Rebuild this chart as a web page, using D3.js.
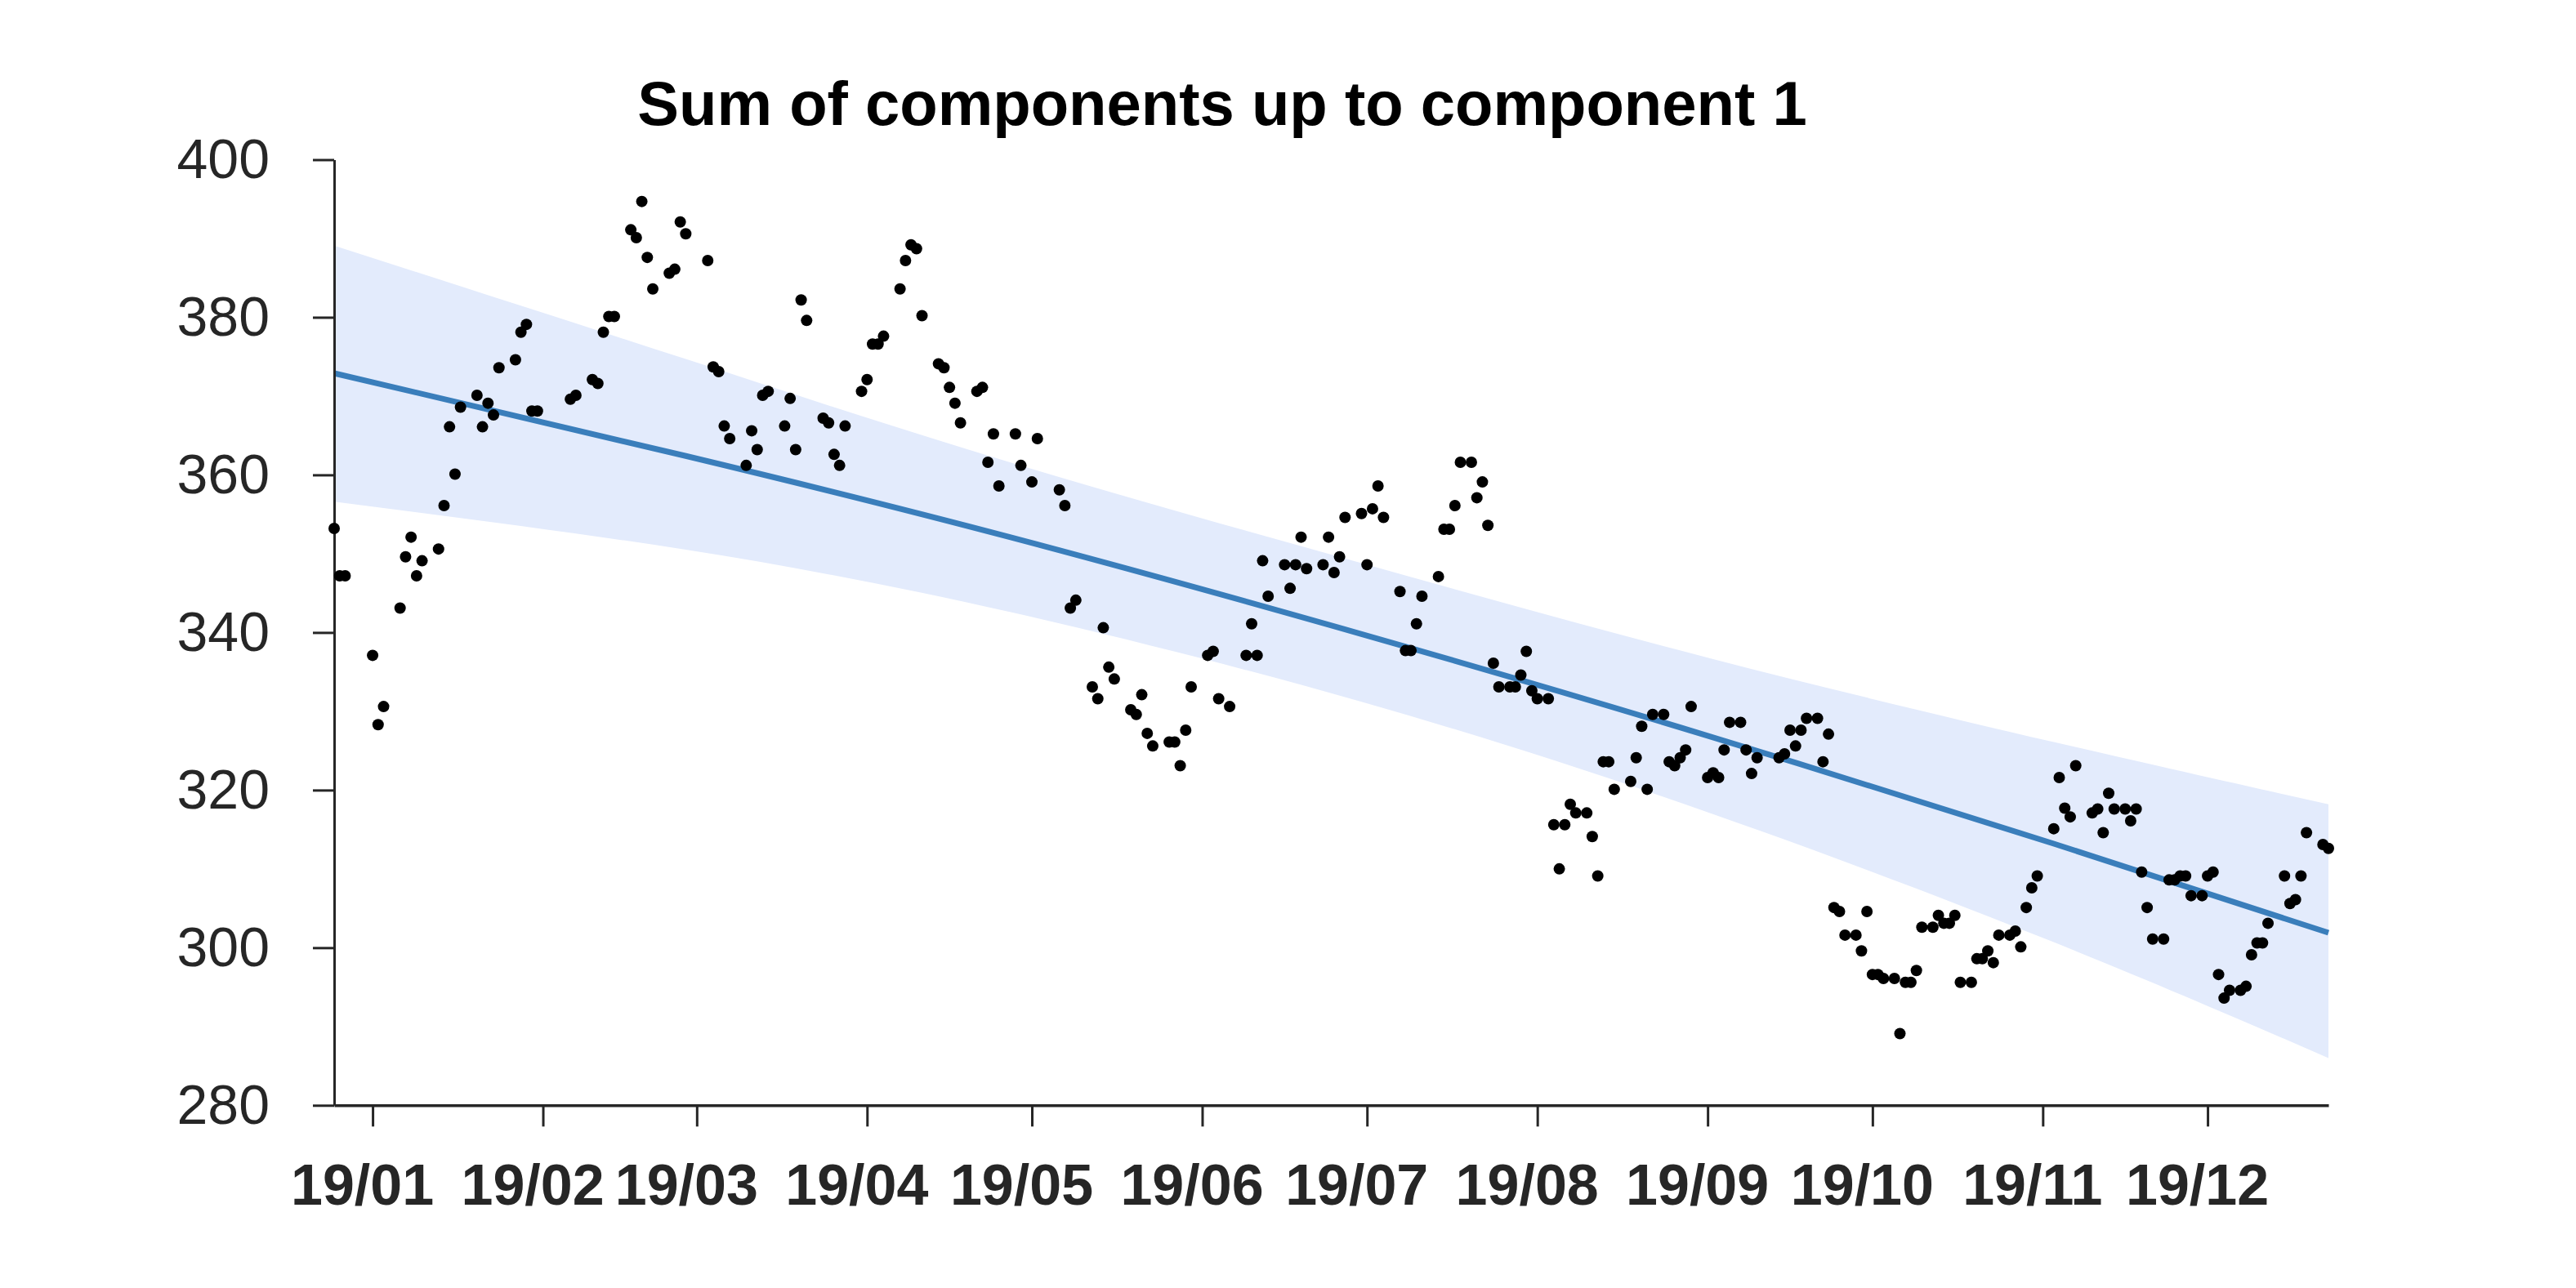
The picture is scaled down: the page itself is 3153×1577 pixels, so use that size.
<!DOCTYPE html>
<html>
<head>
<meta charset="utf-8">
<script src="https://cdn.jsdelivr.net/npm/d3@7"></script>
<style>
  html, body { margin: 0; padding: 0; background: #fff; }
  svg { display: block; }
</style>
</head>
<body>
<svg id="chart" width="3153" height="1577"></svg>
<script>
// ---- DATA (days counted from 2019-01-01) ----
const titleText = "Sum of components up to component 1";
const yTickValues = [280, 300, 320, 340, 360, 380, 400];

const dayOffsets = [
  -7, -6, -5, 0, 1, 2, 5, 6, 7, 8, 9, 12, 13, 14, 15, 16, 19, 20, 21, 22, 23,
  26, 27, 28, 29, 30, 36, 37, 40, 41, 42, 43, 44, 47, 48, 49, 50, 51, 54, 55, 56, 57,
  61, 62, 63, 64, 65, 68, 69, 70, 71, 72, 75, 76, 77, 78, 79, 82, 83, 84, 85, 86,
  89, 90, 91, 92, 93, 96, 97, 98, 99, 100, 103, 104, 105, 106, 107, 110, 111, 112, 113, 114,
  117, 118, 120, 121, 125, 126, 127, 128, 131, 132, 133, 134, 135, 138, 139, 140, 141, 142,
  145, 146, 147, 148, 149, 152, 153, 154, 156, 159, 160, 161, 162, 163, 166, 167, 168, 169, 170,
  173, 174, 175, 176, 177, 180, 181, 182, 183, 184, 187, 188, 189, 190, 191, 194, 195, 196, 197, 198,
  200, 201, 202, 203, 204, 205, 207, 208, 209, 210, 211, 212, 214, 215, 216, 217, 218, 219,
  221, 222, 223, 224, 225, 226, 229, 230, 231, 232, 233, 235, 236, 237, 238, 239, 240,
  243, 244, 245, 246, 247, 249, 250, 251, 252, 256, 257, 258, 259, 260, 261, 263, 264, 265,
  266, 267, 268, 270, 271, 272, 273, 274, 275, 277, 278, 279, 280, 281, 282, 284, 285, 286, 287, 288,
  289, 291, 292, 293, 294, 295, 296, 298, 299, 300, 301, 302, 303, 306, 307, 308, 309, 310,
  313, 314, 315, 316, 317, 319, 320, 321, 322, 323, 324, 326, 327, 328, 329, 330, 331, 333,
  334, 335, 336, 337, 338, 340, 341, 342, 343, 344, 345, 348, 349, 350, 351, 352, 355, 356
];

const observedValues = [
  353.2, 347.2, 347.2, 337.1, 328.3, 330.6, 343.1, 349.6, 352.1, 347.2, 349.1, 350.6, 356.1, 366.1, 360.1, 368.6, 370.1, 366.1, 369.1, 367.6, 373.6,
  374.6, 378.1, 379.1, 368.1, 368.1, 369.6, 370.1, 372.1, 371.6, 378.1, 380.1, 380.1, 391.1, 390.1, 394.7, 387.6, 383.6, 385.6, 386.1, 392.1, 390.6,
  387.2, 373.7, 373.1, 366.2, 364.6, 361.2, 365.6, 363.2, 370.1, 370.6, 366.2, 369.7, 363.2, 382.2, 379.6, 367.2, 366.6, 362.6, 361.2, 366.2,
  370.6, 372.1, 376.6, 376.6, 377.6, 383.6, 387.2, 389.2, 388.7, 380.2, 374.1, 373.6, 371.1, 369.1, 366.6, 370.6, 371.1, 361.6, 365.2, 358.6,
  365.2, 361.2, 359.1, 364.6, 358.1, 356.1, 343.1, 344.1, 333.1, 331.6, 340.6, 335.6, 334.1, 330.2, 329.6, 332.1, 327.2, 325.6,
  326.1, 326.1, 323.1, 327.6, 333.1, 337.1, 337.6, 331.6, 330.6, 337.1, 341.1, 337.1, 349.1, 344.6, 348.6, 345.6, 348.6, 352.1, 348.1,
  348.6, 352.1, 347.6, 349.6, 354.6, 355.1, 348.6, 355.7, 358.6, 354.6, 345.2, 337.7, 337.7, 341.1, 344.6, 347.1, 353.1, 353.1, 356.1, 361.6,
  361.6, 357.1, 359.1, 353.6, 336.1, 333.1, 333.1, 333.1, 334.6, 337.6, 332.6, 331.6, 331.6, 315.6, 310.0, 315.6, 318.2, 317.1,
  317.1, 314.1, 309.1, 323.6, 323.6, 320.1, 321.1, 324.1, 328.1, 320.1, 329.6, 329.6, 323.6, 323.1, 324.1, 325.1, 330.6,
  321.6, 322.2, 321.6, 325.1, 328.6, 328.6, 325.1, 322.1, 324.1, 324.1, 324.6, 327.6, 325.6, 327.6, 329.1, 329.1, 323.6, 327.1,
  305.1, 304.6, 301.6, 301.6, 299.6, 304.6, 296.6, 296.6, 296.1, 296.1, 289.1, 295.6, 295.6, 297.1, 302.6, 302.6, 304.1, 303.1, 303.1, 304.1,
  295.6, 295.6, 298.6, 298.6, 299.6, 298.1, 301.6, 301.6, 302.1, 300.1, 305.1, 307.6, 309.1, 315.1, 321.6, 317.7, 316.6, 323.1,
  317.1, 317.6, 314.6, 319.6, 317.6, 317.6, 316.1, 317.6, 309.6, 305.1, 301.1, 301.1, 308.6, 308.6, 309.1, 309.1, 306.6, 306.6,
  309.1, 309.6, 296.6, 293.6, 294.6, 294.6, 295.1, 299.1, 300.6, 300.6, 303.1, 309.1, 305.6, 306.1, 309.1, 314.6, 313.1, 312.6
];

// trend component and its interval, read at a few dates
const bandDays   = [-7, 57, 116, 180, 243, 306, 356];
const trendValues = [372.9, 362.4, 352.1, 339.8, 326.9, 313.2, 301.9];
const bandUpper   = [389.1, 374.7, 361.6, 348.8, 336.8, 326.1, 318.2];
const bandLower   = [356.6, 350.5, 342.6, 331.2, 317.2, 300.7, 286.0];

// ---- DRAWING ----
const dayToDate = d => new Date(Date.UTC(2019, 0, 1 + d));
const svg = d3.select("#chart");
const fontFamily = "'Liberation Sans', Arial, Helvetica, sans-serif";
const axisColor = "#262626";

const x = d3.scaleUtc()
  .domain([dayToDate(dayOffsets[0]), dayToDate(dayOffsets[dayOffsets.length - 1])])
  .range([409, 2850]);
const y = d3.scaleLinear().domain([280, 400]).range([1353.3, 195.5]);

const bandData = bandDays.map((d, i) => ({ date: dayToDate(d), lo: bandLower[i], hi: bandUpper[i], mid: trendValues[i] }));

svg.append("path")
  .datum(bandData)
  .attr("fill", "#e3ebfc")
  .attr("d", d3.area().curve(d3.curveNatural)
    .x(d => x(d.date)).y0(d => y(d.lo)).y1(d => y(d.hi)));

svg.append("path")
  .datum(bandData)
  .attr("fill", "none")
  .attr("stroke", "#3a7ebb")
  .attr("stroke-width", 7)
  .attr("d", d3.line().curve(d3.curveNatural).x(d => x(d.date)).y(d => y(d.mid)));

// y axis
const yAxis = svg.append("g")
  .attr("transform", "translate(409,0)")
  .call(d3.axisLeft(y).tickValues(yTickValues).tickSize(26).tickSizeOuter(0).tickPadding(53).tickFormat(d3.format("d")));
yAxis.select(".domain").attr("stroke", axisColor).attr("stroke-width", 3);
yAxis.selectAll(".tick line").attr("stroke", axisColor).attr("stroke-width", 3);
yAxis.selectAll(".tick text")
  .attr("fill", axisColor)
  .style("font-family", fontFamily)
  .style("font-size", "68px");

// x axis
const monthTicks = d3.utcMonth.range(dayToDate(0), dayToDate(335));
const xAxis = svg.append("g")
  .attr("transform", "translate(0,1353.3)")
  .call(d3.axisBottom(x).tickValues(monthTicks).tickSize(26).tickSizeOuter(0).tickFormat(d3.utcFormat("%y/%m")));
xAxis.select(".domain").attr("stroke", axisColor).attr("stroke-width", 3.5);
xAxis.selectAll(".tick line").attr("stroke", axisColor).attr("stroke-width", 3);
xAxis.selectAll(".tick text")
  .attr("fill", axisColor)
  .attr("y", 122).attr("dy", 0).attr("dx", -13)
  .style("font-family", fontFamily)
  .style("font-weight", "bold")
  .style("font-size", "70px");

// points
svg.append("g").selectAll("circle")
  .data(dayOffsets.map((d, i) => ({ date: dayToDate(d), v: observedValues[i] })))
  .join("circle")
  .attr("cx", d => x(d.date))
  .attr("cy", d => y(d.v))
  .attr("r", 7)
  .attr("fill", "#000");

// title
svg.append("text")
  .attr("x", 1496).attr("y", 153)
  .attr("text-anchor", "middle")
  .style("font-family", fontFamily)
  .style("font-weight", "bold")
  .style("font-size", "76px")
  .attr("fill", "#000")
  .text(titleText);
</script>
</body>
</html>
